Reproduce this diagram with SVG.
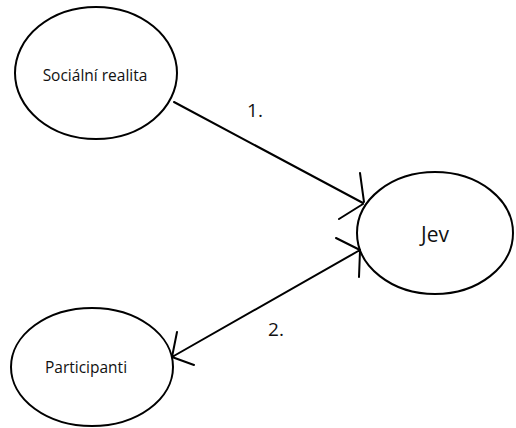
<svg xmlns="http://www.w3.org/2000/svg" width="516" height="428" viewBox="0 0 516 428">
<style>
.n{fill:#fff;stroke:#000;stroke-width:2}
.t{font-family:"Open Sans","Liberation Sans",sans-serif;font-size:15.5px;fill:#111;text-anchor:middle}
.c{fill:none;stroke:#000;stroke-width:2;stroke-linecap:round}
</style>
<rect width="516" height="428" fill="#fff"/>
<g id="socialni-realita"><ellipse class="n" cx="96" cy="73" rx="81" ry="66"/><text class="t" x="95" y="81">Sociální realita</text></g>
<g id="jev"><ellipse class="n" cx="435" cy="233" rx="78" ry="61"/><text class="t" x="435" y="242" style="font-size:21px">Jev</text></g>
<g id="participanti"><ellipse class="n" cx="92" cy="367" rx="81" ry="59"/><text class="t" x="86" y="373">Participanti</text></g>
<g id="connectors">
<path class="c" d="M174,102 L363,203 M360,173 L364,202 M339,219 L363,204"/>
<path class="c" d="M360,250 L172,357 M336,238 L360,250 M359,277 L360,251 M177,332 L172,357 M194,365 L172,357"/>
<text class="t" x="255" y="117" style="font-size:19px">1.</text>
<text class="t" x="276" y="336" style="font-size:19px">2.</text>
</g>
</svg>
